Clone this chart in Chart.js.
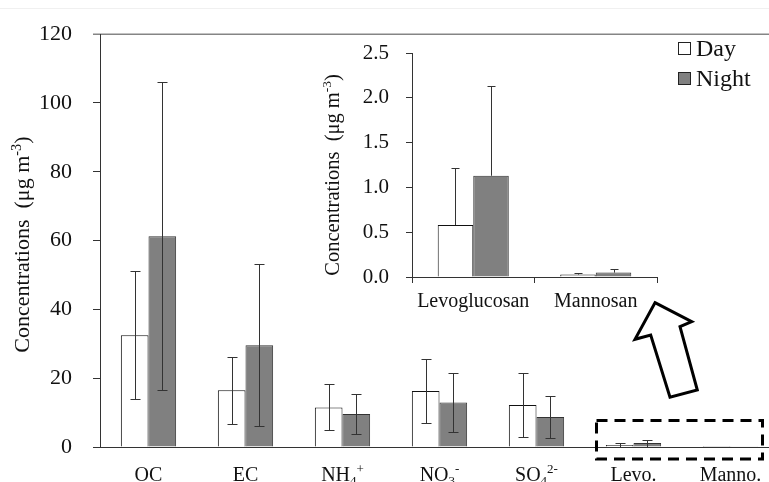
<!DOCTYPE html>
<html>
<head>
<meta charset="utf-8">
<script src="https://cdn.jsdelivr.net/npm/chart.js@4.4.0/dist/chart.umd.min.js"></script>
<style>
  html, body { margin: 0; padding: 0; background: #fff; overflow: hidden; }
  #wrap { position: relative; width: 769px; height: 482px; overflow: hidden; }
  #mainChart { position: absolute; left: 0; top: 0; }
  #insetChart { position: absolute; left: 300px; top: 0; }
</style>
</head>
<body>
<div id="wrap">
  <canvas id="mainChart" width="780" height="482"></canvas>
  <canvas id="insetChart" width="469" height="320"></canvas>
</div>
<script>
// data (means and standard deviations, ug m-3)
const categories = ["OC", "EC", "NH_{4}^{+}", "NO_{3}^{-}", "SO_{4}^{2-}", "Levo.", "Manno."];
const dayMean = [32.5, 16.5, 11.5, 16.3, 12.2, 0.58, 0.027];
const nightMean = [61.3, 29.6, 9.6, 12.9, 8.7, 1.13, 0.049];
const daySD = [18.6, 9.7, 6.7, 9.4, 9.4, 0.64, 0.018];
const nightSD = [44.8, 23.6, 5.7, 8.6, 6.1, 1.0, 0.045];
const mainTicks = [0, 20, 40, 60, 80, 100, 120];

const insetCategories = ["Levoglucosan", "Mannosan"];
const insetDay = dayMean.slice(5);
const insetNight = nightMean.slice(5);
const insetDaySD = daySD.slice(5);
const insetNightSD = nightSD.slice(5);
const insetTicks = [0, 0.5, 1.0, 1.5, 2.0, 2.5];

const seriesNames = ["Day", "Night"];
const FONT = "'Liberation Serif', 'Times New Roman', serif";
const INK = "#111";

// text with _{sub} and ^{sup} parts
function drawRich(ctx, text, x, y, size, align) {
    const parts = [];
    const re = /([_^])\{([^}]*)\}/g;
    let last = 0, m;
    while ((m = re.exec(text)) !== null) {
        if (m.index > last) parts.push({ t: text.slice(last, m.index), k: "" });
        parts.push({ t: m[2], k: m[1] });
        last = re.lastIndex;
    }
    if (last < text.length) parts.push({ t: text.slice(last), k: "" });
    let total = 0;
    parts.forEach(p => {
        p.size = p.k ? size * 0.65 : size;
        ctx.font = p.size + "px " + FONT;
        p.w = ctx.measureText(p.t).width;
        total += p.w;
    });
    let cx = align === "center" ? x - total / 2 : x;
    ctx.textAlign = "left";
    ctx.textBaseline = "alphabetic";
    parts.forEach(p => {
        ctx.font = p.size + "px " + FONT;
        let dy = 0;
        if (p.k === "_") dy = size * 0.22;
        if (p.k === "^") dy = -size * 0.38;
        ctx.fillText(p.t, cx, y + dy);
        cx += p.w;
    });
}

const errorBars = {
    id: "errorBars",
    afterDatasetsDraw(chart, args, opts) {
        const ctx = chart.ctx;
        const y = chart.scales.y;
        ctx.save();
        ctx.strokeStyle = opts.color;
        ctx.lineWidth = 1;
        chart.data.datasets.forEach((ds, i) => {
            const meta = chart.getDatasetMeta(i);
            meta.data.forEach((bar, j) => {
                const v = ds.data[j], e = opts.errors[i][j];
                const x = Math.round(bar.x) + 0.5;
                const yTop = Math.round(y.getPixelForValue(v + e)) + 0.5;
                const yBot = opts.both ? Math.round(y.getPixelForValue(Math.max(v - e, 0))) + 0.5
                                       : y.getPixelForValue(v);
                const c = opts.cap / 2;
                ctx.beginPath();
                ctx.moveTo(x, yTop);
                ctx.lineTo(x, yBot);
                ctx.moveTo(x - c, yTop);
                ctx.lineTo(x + c, yTop);
                if (opts.both) {
                    ctx.moveTo(x - c, yBot);
                    ctx.lineTo(x + c, yBot);
                }
                ctx.stroke();
            });
        });
        ctx.restore();
    }
};

const richLabels = {
    id: "richLabels",
    afterDraw(chart, args, opts) {
        const ctx = chart.ctx;
        const xs = chart.scales.x, area = chart.chartArea;
        ctx.save();
        ctx.fillStyle = INK;
        chart.data.labels.forEach((lab, i) => {
            drawRich(ctx, lab, xs.getPixelForTick(i), area.bottom + opts.offset, opts.size, "center");
        });
        // rotated y title
        ctx.translate(opts.titleX, (area.top + area.bottom) / 2 + opts.titleShift);
        ctx.rotate(-Math.PI / 2);
        drawRich(ctx, opts.title, 0, opts.titleSize * 0.33, opts.titleSize, "center");
        ctx.restore();
    }
};

const mainExtras = {
    id: "mainExtras",
    beforeDraw(chart) {
        const ctx = chart.ctx, area = chart.chartArea;
        ctx.save();
        // faint line along the top of the figure and the plot frame top
        ctx.strokeStyle = "#f0f0f0";
        ctx.lineWidth = 1;
        ctx.beginPath();
        ctx.moveTo(0, 8.5);
        ctx.lineTo(chart.width, 8.5);
        ctx.stroke();
        ctx.strokeStyle = "#858585";
        ctx.lineWidth = 1.5;
        ctx.beginPath();
        ctx.moveTo(area.left - 7, area.top);
        ctx.lineTo(chart.width, area.top);
        ctx.stroke();
        ctx.restore();
    },
    afterDraw(chart) {
        const ctx = chart.ctx;
        const xs = chart.scales.x, ys = chart.scales.y, area = chart.chartArea;
        ctx.save();
        // dashed box round the sugars
        const bx0 = xs.getPixelForValue(5) - 37, bx1 = xs.getPixelForValue(6) + 32;
        const by0 = ys.getPixelForValue(7.7), by1 = area.bottom + 12;
        ctx.strokeStyle = "#000";
        ctx.lineWidth = 3;
        ctx.setLineDash([11, 7]);
        ctx.strokeRect(bx0, by0, bx1 - bx0, by1 - by0);
        ctx.setLineDash([]);
        // block arrow pointing to the inset
        const arrow = [[655, 302.7], [691.7, 321.7], [680, 326.7], [697.3, 390], [670, 397.3], [650.7, 335], [635, 339.3]];
        ctx.beginPath();
        arrow.forEach((p, i) => i ? ctx.lineTo(p[0], p[1]) : ctx.moveTo(p[0], p[1]));
        ctx.closePath();
        ctx.fillStyle = "#fff";
        ctx.fill();
        ctx.lineJoin = "miter";
        ctx.stroke();
        // legend
        ctx.lineWidth = 1;
        chart.data.datasets.forEach((ds, i) => {
            const top = 42 + i * 30;
            ctx.fillStyle = ds.backgroundColor;
            ctx.fillRect(678.5, top + 0.5, 12, 12);
            ctx.strokeStyle = "#222";
            ctx.strokeRect(678.5, top + 0.5, 12, 12);
            ctx.fillStyle = INK;
            ctx.font = "24px " + FONT;
            ctx.textAlign = "left";
            ctx.textBaseline = "alphabetic";
            ctx.fillText(ds.label, 696, top + 14);
        });
        ctx.restore();
    }
};

new Chart("mainChart", {
    type: "bar",
    data: {
        labels: categories,
        datasets: [
            { label: seriesNames[0], data: dayMean, backgroundColor: "#ffffff", borderColor: "#111", borderWidth: 1 },
            { label: seriesNames[1], data: nightMean, backgroundColor: "#808080", borderColor: "#333", borderWidth: 1 }
        ]
    },
    options: {
        responsive: false,
        animation: false,
        layout: { padding: { left: 0, right: 1, top: 27, bottom: 0 } },
        datasets: { bar: { categoryPercentage: 0.57, barPercentage: 1 } },
        plugins: {
            legend: { display: false },
            tooltip: { enabled: false },
            errorBars: { errors: [daySD, nightSD], both: true, cap: 10, color: "#333" },
            richLabels: { size: 20, offset: 34, title: "Concentrations  (\u03bcg m^{-3})", titleX: 22, titleSize: 22, titleShift: 4 }
        },
        scales: {
            x: {
                grid: { display: false },
                border: { color: "#333", width: 1 },
                ticks: { display: false },
                afterFit: s => { s.height = 35; }
            },
            y: {
                min: 0,
                max: 120,
                afterBuildTicks: s => { s.ticks = mainTicks.map(v => ({ value: v })); },
                afterFit: s => { s.width = 100; },
                border: { color: "#333", width: 1 },
                grid: {
                    drawOnChartArea: false,
                    tickLength: 7,
                    tickColor: c => c.tick && c.tick.value === 120 ? "#858585" : "#333"
                },
                ticks: { color: INK, padding: 21, font: { family: FONT, size: 22 } }
            }
        }
    },
    plugins: [errorBars, richLabels, mainExtras]
});

new Chart("insetChart", {
    type: "bar",
    data: {
        labels: insetCategories,
        datasets: [
            { label: seriesNames[0], data: insetDay, backgroundColor: "#ffffff", borderColor: "#111", borderWidth: 1 },
            { label: seriesNames[1], data: insetNight, backgroundColor: "#808080", borderColor: "#333", borderWidth: 1 }
        ]
    },
    options: {
        responsive: false,
        animation: false,
        layout: { padding: { left: 0, right: 112, top: 53, bottom: 0 } },
        datasets: { bar: { categoryPercentage: 0.58, barPercentage: 1 } },
        plugins: {
            legend: { display: false },
            tooltip: { enabled: false },
            errorBars: { errors: [insetDaySD, insetNightSD], both: false, cap: 8, color: "#333" },
            richLabels: { size: 20, offset: 30, title: "Concentrations  (\u03bcg m^{-3})", titleX: 32, titleSize: 20.5, titleShift: 10 }
        },
        scales: {
            x: {
                border: { color: "#333", width: 1 },
                grid: { offset: true, drawOnChartArea: false, tickLength: 6, tickColor: "#333" },
                ticks: { display: false },
                afterFit: s => { s.height = 43; }
            },
            y: {
                min: 0,
                max: 2.5,
                afterBuildTicks: s => { s.ticks = insetTicks.map(v => ({ value: v })); },
                afterFit: s => { s.width = 112; },
                border: { color: "#333", width: 1 },
                grid: { drawOnChartArea: false, tickLength: 6, tickColor: "#333" },
                ticks: { color: INK, padding: 17, font: { family: FONT, size: 21 }, callback: v => v.toFixed(1) }
            }
        }
    },
    plugins: [errorBars, richLabels]
});
</script>
</body>
</html>
